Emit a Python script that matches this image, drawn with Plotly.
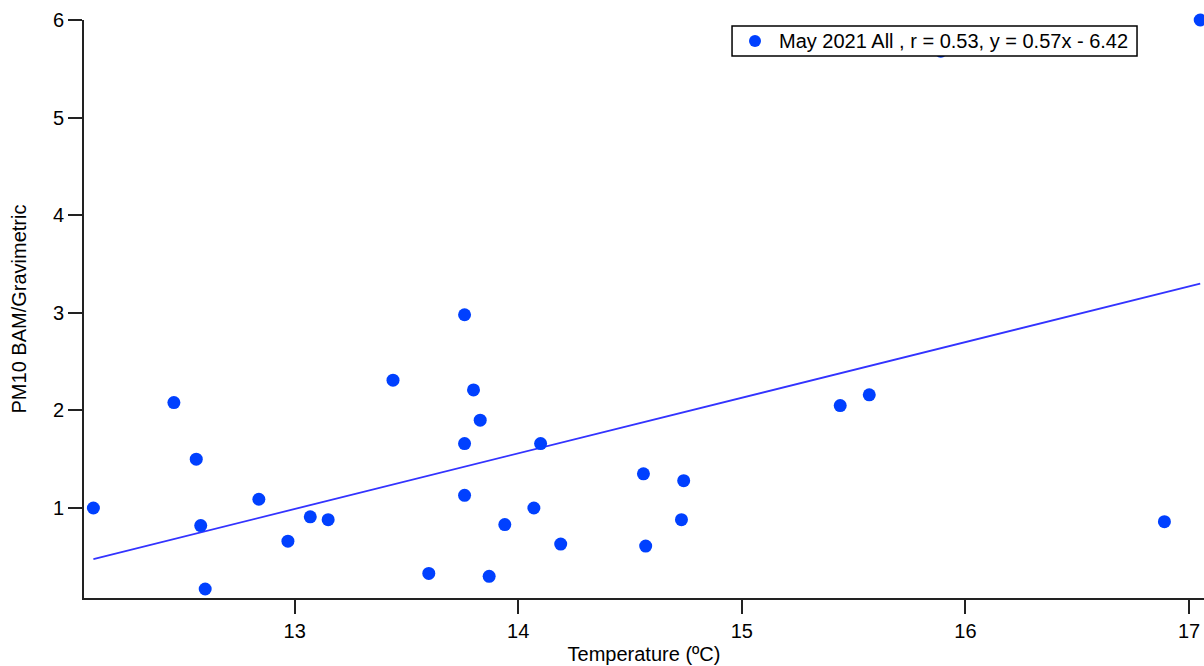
import numpy as np
import plotly.graph_objects as go

# Temperature (ºC) and PM10 BAM/Gravimetric ratio, May 2021
temperature = [12.10, 12.46, 12.56, 12.58, 12.60, 12.84, 12.97, 13.07, 13.15,
               13.44, 13.76, 13.80, 13.83, 13.76, 14.10, 13.76, 14.07, 13.94,
               14.19, 13.60, 13.87, 14.56, 14.74, 14.73, 14.57, 15.44, 15.57,
               16.89, 15.89, 17.05]
ratio = [1.00, 2.08, 1.50, 0.82, 0.17, 1.09, 0.66, 0.91, 0.88,
         2.31, 2.98, 2.21, 1.90, 1.66, 1.66, 1.13, 1.00, 0.83,
         0.63, 0.33, 0.30, 1.35, 1.28, 0.88, 0.61, 2.05, 2.16,
         0.86, 5.68, 6.00]

# Linear fit reported in the legend
slope = 0.57
intercept = -6.42
r_value = 0.53

x_ticks = [13, 14, 15, 16, 17]
y_ticks = [1, 2, 3, 4, 5, 6]

font_family = "Liberation Sans, Arial, Helvetica, sans-serif"
axis_color = "#222222"
marker_color = "#0040ff"

fit_x = np.array([min(temperature), max(temperature)])
fit_y = slope * fit_x + intercept

legend_text = f"May 2021 All , r = {r_value:.2f}, y = {slope:.2f}x - {abs(intercept):.2f}"

fig = go.Figure()
fig.add_trace(go.Scatter(
    x=fit_x, y=fit_y, mode="lines",
    line=dict(color="#3333ff", width=1.8),
    showlegend=False, hoverinfo="skip",
))
fig.add_trace(go.Scatter(
    x=temperature, y=ratio, mode="markers",
    marker=dict(color=marker_color, size=13, line=dict(width=0)),
    name=legend_text, showlegend=False,
    cliponaxis=False,
))

# Framed legend box drawn on top of the plot area
fig.add_shape(
    type="rect", xref="paper", yref="paper",
    x0=0.5786, x1=0.9402, y0=0.9377, y1=0.9896,
    fillcolor="white", line=dict(color="black", width=1.5), layer="above",
)
fig.add_shape(
    type="circle", xref="paper", yref="paper",
    xsizemode="pixel", ysizemode="pixel",
    xanchor=0.5991, yanchor=0.9637, x0=-6, x1=6, y0=-6, y1=6,
    fillcolor=marker_color, line=dict(width=0), layer="above",
)
fig.add_annotation(
    text=legend_text, xref="paper", yref="paper",
    x=0.6190, y=0.9637, xanchor="left", yanchor="middle",
    showarrow=False, font=dict(size=20, color="black"),
)

fig.update_layout(
    width=1204, height=666,
    margin=dict(l=84, r=0, t=20, b=68),
    paper_bgcolor="white", plot_bgcolor="white",
    font=dict(family=font_family, size=20, color="black"),
    showlegend=False,
)
fig.update_xaxes(
    range=[12.058, 17.067],
    tickvals=x_ticks, ticktext=[str(v) for v in x_ticks],
    showgrid=False, zeroline=False,
    showline=True, linecolor=axis_color, linewidth=1.6,
    ticks="outside", ticklen=14, tickwidth=1.5, tickcolor=axis_color,
    title=dict(text="Temperature (ºC)", standoff=6, font=dict(size=20)),
)
fig.update_yaxes(
    range=[0.078, 6.0],
    tickvals=y_ticks, ticktext=[str(v) for v in y_ticks],
    showgrid=False, zeroline=False,
    showline=True, linecolor=axis_color, linewidth=1.6,
    ticks="outside", ticklen=14, tickwidth=1.5, tickcolor=axis_color,
    title=dict(text="PM10 BAM/Gravimetric", standoff=21, font=dict(size=20)),
)

fig.write_html("out.html")
